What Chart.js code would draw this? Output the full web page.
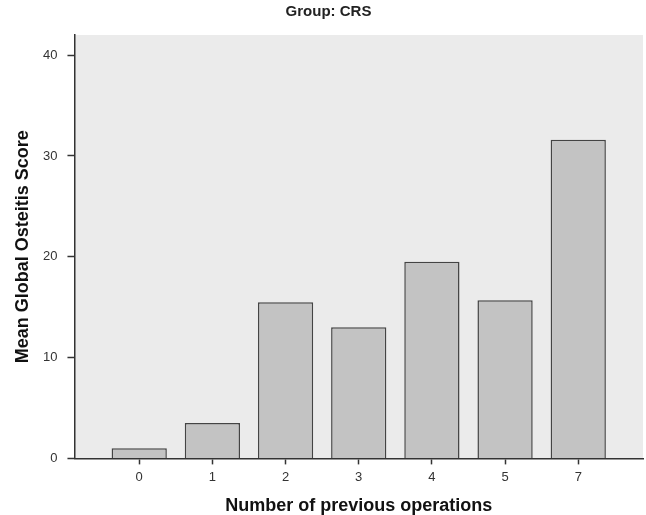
<!DOCTYPE html>
<html>
<head>
<meta charset="utf-8">
<script src="https://cdn.jsdelivr.net/npm/chart.js@4"></script>
<style>
  html, body { margin: 0; padding: 0; background: #fff; }
  #wrap { width: 646px; height: 515px; }
</style>
</head>
<body>
<div id="wrap"><canvas id="chart" width="646" height="515"></canvas></div>
<script>
// mean global osteitis score by number of previous operations, CRS group
const categories = ['0', '1', '2', '3', '4', '5', '7'];
const meanScores = [1.0, 3.5, 15.5, 13.0, 19.5, 15.7, 31.6];
const yTicks = [0, 10, 20, 30, 40];

const plotBg = {
    id: 'plotBg',
    beforeDraw(chart) {
        const a = chart.chartArea;
        const c = chart.ctx;
        c.save();
        c.fillStyle = '#ebebeb';
        c.fillRect(a.left, a.top, a.right - a.left, a.bottom - a.top);
        c.restore();
    }
};

const ctx = document.getElementById('chart').getContext('2d');
const myChart = new Chart(ctx, {
    type: 'bar',
    data: {
        datasets: [{
            label: 'Mean Global Osteitis Score',
            data: meanScores.map((v, i) => ({ x: i, y: v })),
            backgroundColor: '#c3c3c3',
            borderColor: '#444',
            borderWidth: 1.5,
            borderSkipped: 'bottom',
            barPercentage: 0.755,
            categoryPercentage: 1
        }]
    },
    options: {
        responsive: false,
        animation: false,
        layout: { padding: { left: 14, right: 3, top: 0, bottom: 0 } },
        plugins: {
            legend: { display: false },
            tooltip: { enabled: false },
            title: {
                display: true,
                text: 'Group: CRS',
                color: '#222',
                font: { family: 'Liberation Sans', size: 15, weight: 'bold' },
                padding: { top: 3, bottom: 14 }
            }
        },
        scales: {
            x: {
                type: 'linear',
                offset: false,
                min: -0.885,
                max: 6.885,
                afterBuildTicks: (scale) => {
                    scale.ticks = categories.map((c, i) => ({ value: i }));
                },
                ticks: {
                    callback: (val, idx) => categories[idx],
                    color: '#333',
                    font: { family: 'Liberation Sans', size: 13 },
                    padding: 5,
                    maxRotation: 0
                },
                grid: {
                    offset: false,
                    drawOnChartArea: false,
                    color: '#333',
                    tickLength: 6,
                    tickWidth: 1.5
                },
                border: { display: true, color: '#333', width: 1.5 },
                title: {
                    display: true,
                    text: 'Number of previous operations',
                    color: '#111',
                    font: { family: 'Liberation Sans', size: 18, weight: 'bold', lineHeight: 1 },
                    padding: { top: 7, bottom: 0 }
                }
            },
            y: {
                min: 0,
                max: 42,
                afterBuildTicks: (scale) => {
                    scale.ticks = yTicks.map(v => ({ value: v }));
                },
                ticks: {
                    color: '#333',
                    font: { family: 'Liberation Sans', size: 13 },
                    padding: 10
                },
                grid: {
                    drawOnChartArea: false,
                    color: '#333',
                    tickLength: 7,
                    tickWidth: 1.5
                },
                border: { display: true, color: '#333', width: 1.5 },
                title: {
                    display: true,
                    text: 'Mean Global Osteitis Score',
                    color: '#111',
                    font: { family: 'Liberation Sans', size: 18, weight: 'bold', lineHeight: 1 },
                    padding: { top: 0, bottom: 1 }
                }
            }
        }
    },
    plugins: [plotBg]
});
</script>
</body>
</html>
